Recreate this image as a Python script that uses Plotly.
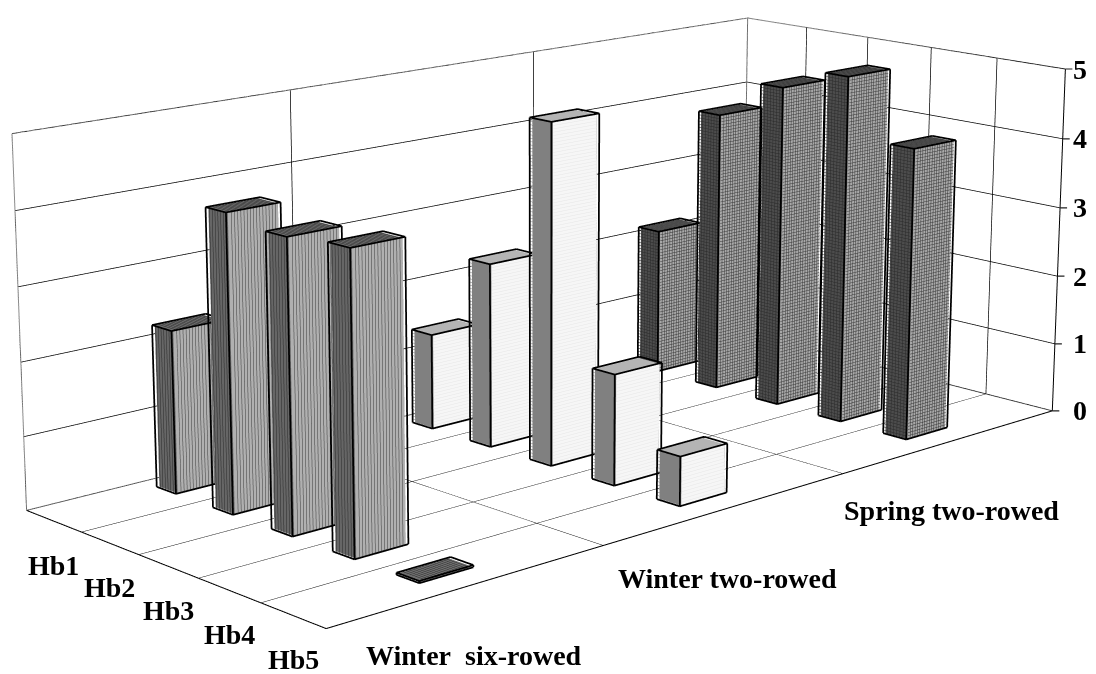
import plotly.graph_objects as go

series = ["Winter\u00a0 six-rowed", "Winter two-rowed", "Spring two-rowed"]
proteins = ["Hb1", "Hb2", "Hb3", "Hb4", "Hb5"]
six_rowed = [2.22, 4.01, 3.90, 3.97, 0.02]
two_rowed = [1.36, 2.60, 4.76, 1.53, 0.67]
spring = [2.15, 4.09, 4.66, 4.98, 4.14]
z_ticks = [0, 1, 2, 3, 4, 5]

U0, U1 = 0.42, 0.60   # bar footprint inside a category cell
V0, V1 = 0.40, 0.73
FONT = dict(family="Liberation Serif", size=28, color="black")
NOHOVER = dict(hoverinfo="skip", showlegend=False)

STYLES = [
    dict(front="#b0b0b0", side="#666666", top="#6e6e6e", ink="#3a3a3a", side_ink="#2a2a2a", mode="v"),
    dict(front="#f6f6f6", side="#808080", top="#b4b4b4", ink="#e6e6e6", side_ink="#808080", mode="h"),
    dict(front="#a8a8a8", side="#4c4c4c", top="#6a6a6a", ink="#383838", side_ink="#2a2a2a", mode="g"),
]

fig = go.Figure()


def box_mesh(x0, x1, y0, y1, h, st):
    xs = [x0, x1, x1, x0, x0, x1, x1, x0]
    ys = [y0, y0, y1, y1, y0, y0, y1, y1]
    zs = [0, 0, 0, 0, h, h, h, h]
    faces = [
        (0, 1, 5, st["front"]), (0, 5, 4, st["front"]),
        (0, 3, 7, st["side"]), (0, 7, 4, st["side"]),
        (4, 5, 6, st["top"]), (4, 6, 7, st["top"]),
        (1, 2, 6, st["side"]), (1, 6, 5, st["side"]),
        (3, 2, 6, st["front"]), (3, 6, 7, st["front"]),
        (0, 1, 2, st["side"]), (0, 2, 3, st["side"]),
    ]
    fig.add_trace(go.Mesh3d(
        x=xs, y=ys, z=zs,
        i=[f[0] for f in faces], j=[f[1] for f in faces], k=[f[2] for f in faces],
        facecolor=[f[3] for f in faces], flatshading=True,
        lighting=dict(ambient=1, diffuse=0, specular=0, fresnel=0, roughness=1),
        hoverinfo="skip", showlegend=False))


def segs(lst, color, width):
    if not lst:
        return
    X, Y, Z = [], [], []
    for a, b in lst:
        X += [a[0], b[0], None]
        Y += [a[1], b[1], None]
        Z += [a[2], b[2], None]
    fig.add_trace(go.Scatter3d(x=X, y=Y, z=Z, mode="lines",
                               line=dict(color=color, width=width), **NOHOVER))


def hatch(x0, x1, y0, y1, h, st):
    e = 0.006
    front, side = [], []
    nfront, nside = 16, 7
    nz = max(1, int(h * 22))
    if st["mode"] in ("v", "g"):
        for n in range(1, nfront):
            x = x0 + (x1 - x0) * n / nfront
            front.append(((x, y0 - e, 0), (x, y0 - e, h)))
            side.append(((x, y0, h + e), (x, y1, h + e)))
        for n in range(1, nside):
            y = y0 + (y1 - y0) * n / nside
            side.append(((x0 - e, y, 0), (x0 - e, y, h)))
    if st["mode"] in ("h", "g"):
        for n in range(1, nz):
            z = h * n / nz
            front.append(((x0, y0 - e, z), (x1, y0 - e, z)))
            side.append(((x0 - e, y0, z), (x0 - e, y1, z)))
    segs(front, st["ink"], 1)
    segs(side, st["side_ink"], 1)


def edges(x0, x1, y0, y1, h):
    e = 0.008
    a, b, c, d = x0 - e, x1 + e, y0 - e, y1 + e
    t = h + e
    return [
        ((a, c, 0), (b, c, 0)), ((a, c, 0), (a, d, 0)),
        ((a, c, t), (b, c, t)), ((b, c, t), (b, d, t)), ((b, d, t), (a, d, t)), ((a, d, t), (a, c, t)),
        ((a, c, 0), (a, c, t)), ((b, c, 0), (b, c, t)), ((a, d, 0), (a, d, t)),
    ]


outline = []
for s, vals in enumerate([six_rowed, two_rowed, spring]):
    for p, v in enumerate(vals):
        x0, x1 = s + U0, s + U1
        base = len(proteins) - p - 1
        y0, y1 = base + V0, base + V1
        box_mesh(x0, x1, y0, y1, v, STYLES[s])
        hatch(x0, x1, y0, y1, v, STYLES[s])
        outline += edges(x0, x1, y0, y1, v)
segs(outline, "black", 3.5)

nx, ny, top = len(series), len(proteins), z_ticks[-1]
segs([((0, ny, 0), (0, ny, top)), ((0, ny, top), (nx, ny, top)), ((nx, ny, top), (nx, 0, top)),
      ((nx, ny, 0), (nx, ny, top)), ((0, ny, 0), (nx, ny, 0)), ((nx, ny, 0), (nx, 0, 0))], "#8c8c8c", 2)
segs([((0, 0, 0), (nx, 0, 0)), ((0, 0, 0), (0, ny, 0)), ((nx, 0, 0), (nx, 0, top))], "black", 2)

ann = []
for p, name in enumerate(proteins):
    ann.append(dict(x=0, y=ny - p - 0.5, z=0, text=f"<b>{name}</b>", showarrow=False, font=FONT,
                    xanchor="center", yanchor="middle", xshift=0, yshift=-44))
for s, name in enumerate(series):
    ann.append(dict(x=s + 0.5, y=0, z=0, text=f"<b>{name}</b>", showarrow=False, font=FONT,
                    xanchor="center", yanchor="middle",
                    xshift=[4, 0, 0][s], yshift=[-70, -70, -69][s]))
for t in z_ticks:
    ann.append(dict(x=nx, y=0, z=t, text=f"<b>{t}</b>", showarrow=False, font=FONT,
                    xanchor="center", yanchor="middle", xshift=28 - 2.6 * t, yshift=0))

TICK = dict(text=" ", showarrow=True, arrowhead=0, arrowwidth=1.2, arrowcolor="#222222", standoff=0)
for y in range(ny + 1):
    ann.append(dict(x=0, y=y, z=0, ax=0, ay=10, **TICK))
for x in range(1, nx + 1):
    ann.append(dict(x=x, y=0, z=0, ax=0, ay=10, **TICK))
for t in z_ticks:
    ann.append(dict(x=nx, y=0, z=t, ax=10, ay=0, **TICK))


def axis(n):
    return dict(range=[0, n], tickvals=list(range(n + 1)), showticklabels=False, title=dict(text=""),
                showgrid=True, gridcolor="#000000", gridwidth=1.5, zeroline=False, showline=False,
                showbackground=False, showspikes=False, ticks="")


fig.update_layout(
    width=1110, height=2696, autosize=False, margin=dict(l=0, r=0, t=0, b=0),
    paper_bgcolor="white", showlegend=False,
    scene=dict(
        xaxis=axis(nx), yaxis=axis(ny), zaxis=axis(top),
        aspectmode="manual", aspectratio=dict(x=1.1074, y=0.5048, z=0.41),
        camera=dict(eye=dict(x=-2.4124, y=-2.5529, z=0.86),
                    center=dict(x=-0.1066, y=-0.0739, z=0.0456),
                    up=dict(x=0.0007, y=-0.0012, z=1),
                    projection=dict(type="perspective")),
        annotations=ann,
    ),
)
fig.write_html("out.html", config=dict(displayModeBar=False),
               post_script=("document.documentElement.style.overflow='hidden';"
                            "document.body.style.overflow='hidden';document.body.style.margin='0';"
                            "var g=document.getElementById('{plot_id}');g.style.position='absolute';"
                            "g.style.left='-13.73px';g.style.top='-1079.76px';"))
